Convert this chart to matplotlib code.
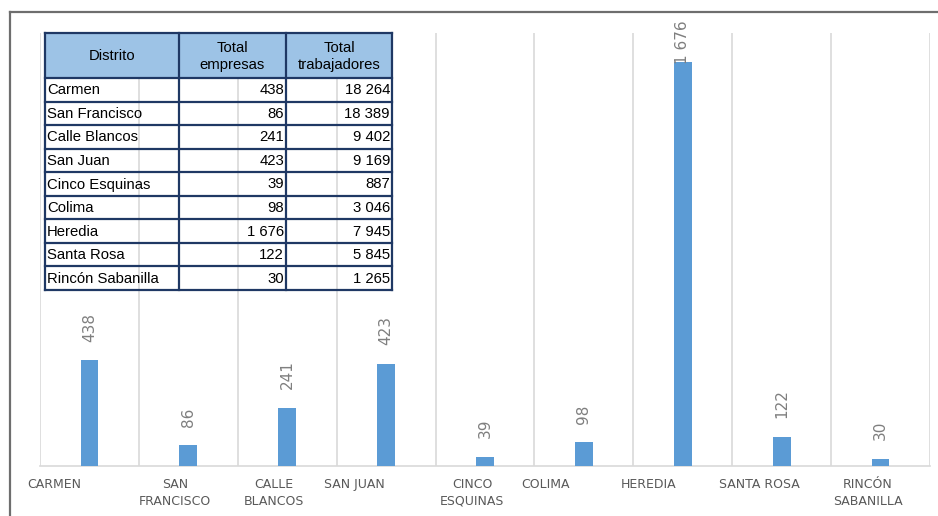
import matplotlib.pyplot as plt
import numpy as np
from matplotlib.lines import Line2D
from matplotlib.patches import Rectangle
from matplotlib.transforms import blended_transform_factory, offset_copy

# Empresas y trabajadores por distrito
distritos = ["Carmen", "San Francisco", "Calle Blancos", "San Juan", "Cinco Esquinas",
             "Colima", "Heredia", "Santa Rosa", "Rincón Sabanilla"]
etiquetas = ["CARMEN", "SAN\nFRANCISCO", "CALLE\nBLANCOS", "SAN JUAN", "CINCO\nESQUINAS",
             "COLIMA", "HEREDIA", "SANTA ROSA", "RINCÓN\nSABANILLA"]
empresas = [438, 86, 241, 423, 39, 98, 1676, 122, 30]
trabajadores = [18264, 18389, 9402, 9169, 887, 3046, 7945, 5845, 1265]
encabezados = ["Distrito", "Total\nempresas", "Total\ntrabajadores"]

AZUL = "#5B9BD5"
GRIS_TXT = "#7F7F7F"
GRIS_EJE = "#595959"
GRID = "#D9D9D9"
MARCO = "#1F3864"
CABECERA = "#9DC3E6"

W, H = 938, 516


def miles(v):
    return f"{v:,}".replace(",", " ")


fig = plt.figure(figsize=(W / 100, H / 100), dpi=100)

# marco del grafico (recortado arriba e izquierda)
fig.add_artist(Line2D([10 / W, 1], [1 - 12 / H] * 2, transform=fig.transFigure,
                      color="#6E6E6E", lw=1.6))
fig.add_artist(Line2D([10 / W] * 2, [0, 1 - 12 / H], transform=fig.transFigure,
                      color="#6E6E6E", lw=1.6))

ax = fig.add_axes([40 / W, 1 - 466 / H, 890 / W, 433 / H])
x = np.arange(len(empresas))
ax.bar(x, empresas, width=0.18, color=AZUL, zorder=3)
ax.set_xlim(-0.5, len(empresas) - 0.5)
ax.set_ylim(0, 1796)
ax.vlines(np.arange(len(empresas) + 1) - 0.5, 0, 1796, color=GRID, lw=1.2, zorder=1)
for s in ("top", "right", "left"):
    ax.spines[s].set_visible(False)
ax.spines["bottom"].set_color(GRID)
ax.spines["bottom"].set_linewidth(1.2)
ax.set_xticks([])
ax.set_yticks([])

# etiquetas de valor sobre las barras
textos = []
for i, v in enumerate(empresas):
    t = ax.annotate(miles(v), (i, v), xytext=(0, 13.5), textcoords="offset points",
                    rotation=90, ha="center", va="bottom", fontsize=11,
                    color=GRIS_TXT, annotation_clip=False)
    textos.append(t)

# etiquetas de categoria
base = blended_transform_factory(ax.transData, ax.transAxes)
tr = offset_copy(base, fig=fig, x=-13, y=-12, units="dots")
for i, et in enumerate(etiquetas):
    if "\n" in et:
        ax.text(i, 0, et, transform=tr, ha="center", va="top", fontsize=9,
                color=GRIS_EJE, linespacing=1.4)
    else:
        ax.text(i - 0.5, 0, et, transform=tr, ha="left", va="top", fontsize=9,
                color=GRIS_EJE)

# las etiquetas no pueden salirse del area del grafico
fig.canvas.draw()
rend = fig.canvas.get_renderer()
limite = H - 20
for t in textos:
    bb = t.get_window_extent(rend)
    if bb.y1 > limite:
        dx, dy = t.xyann
        t.xyann = (dx, dy - (bb.y1 - limite) * 72 / fig.dpi)

# tabla incrustada
tab = fig.add_axes([45 / W, 1 - 290 / H, 347 / W, 257 / H])
tab.set_xlim(0, 347)
tab.set_ylim(257, 0)
tab.axis("off")
cols = [0, 134, 241, 347]
alto_cab = 45
alto_fila = (257 - alto_cab) / len(distritos)
filas = [0] + [alto_cab + k * alto_fila for k in range(len(distritos) + 1)]
fuente = dict(fontsize=10.7, family="Liberation Sans")

tab.add_patch(Rectangle((0, 0), 347, alto_cab, facecolor=CABECERA, edgecolor="none"))
for c in range(3):
    tab.text((cols[c] + cols[c + 1]) / 2, alto_cab / 2 + 1, encabezados[c], ha="center",
             va="center", linespacing=1.35, **fuente)

for r, (d, e, t) in enumerate(zip(distritos, empresas, trabajadores)):
    yc = (filas[r + 1] + filas[r + 2]) / 2 + 0.5
    tab.text(cols[0] + 2, yc, d, ha="left", va="center", **fuente)
    tab.text(cols[2] - 2, yc, miles(e), ha="right", va="center", **fuente)
    tab.text(cols[3] - 2, yc, miles(t), ha="right", va="center", **fuente)

for yy in filas:
    tab.plot([0, 347], [yy, yy], color=MARCO, lw=1.6, clip_on=False,
             solid_capstyle="projecting")
for xx in cols:
    tab.plot([xx, xx], [0, 257], color=MARCO, lw=1.6, clip_on=False,
             solid_capstyle="projecting")

fig.savefig("out.png", dpi=100)
